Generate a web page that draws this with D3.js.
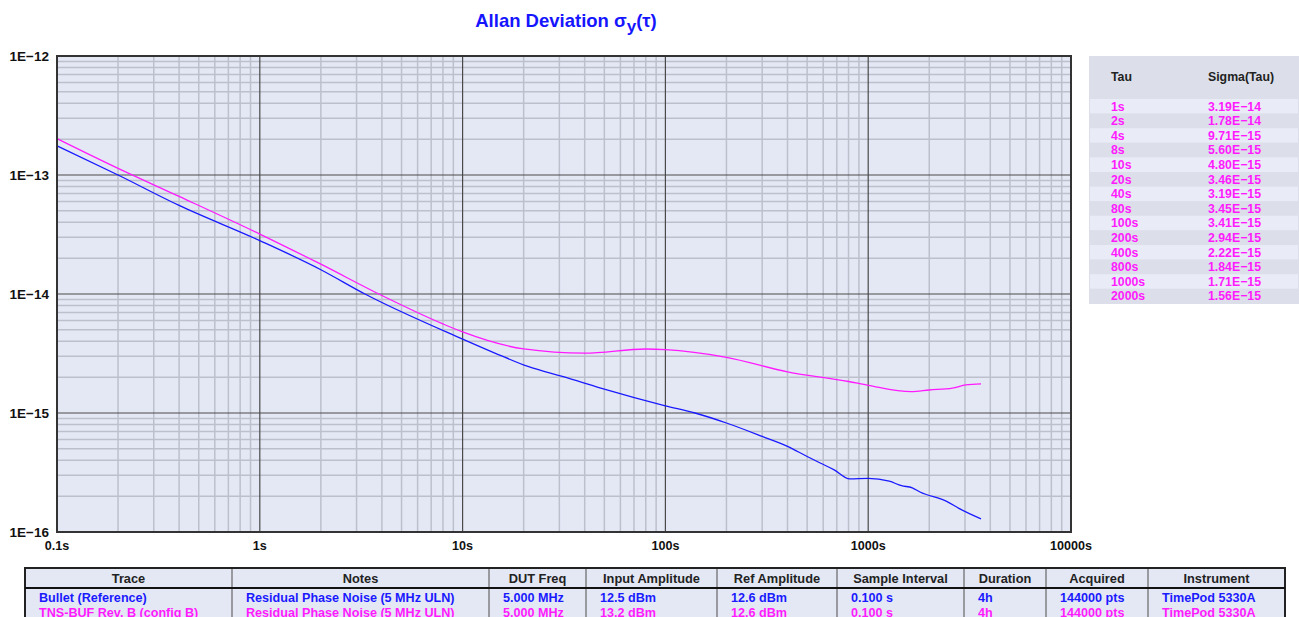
<!DOCTYPE html>
<html>
<head>
<meta charset="utf-8">
<script src="https://cdn.jsdelivr.net/npm/d3@7"></script>
<style>
  body { margin: 0; background: #fff; }
  svg { font-family: "Liberation Sans", Arial, sans-serif; font-weight: bold; }
</style>
</head>
<body>
<svg id="chart" width="1299" height="617"></svg>
<script>
  // traces (tau in s, sigma)
  const tauBullet = [0.1, 0.2, 0.4, 1, 2, 3.3, 10, 15, 21, 32, 48, 100, 140, 200, 300, 400, 500, 580, 680, 810, 1000, 1270, 1460, 1650, 1800, 2450, 2800, 3600];
  const sigmaBullet = [1.76e-13, 1.0e-13, 5.55e-14, 2.81e-14, 1.6e-14, 1.0e-14, 4.18e-15, 3.1e-15, 2.46e-15, 2.0e-15, 1.62e-15, 1.15e-15, 1.0e-15, 8.24e-16, 6.36e-16, 5.24e-16, 4.31e-16, 3.8e-16, 3.33e-16, 2.8e-16, 2.82e-16, 2.67e-16, 2.45e-16, 2.35e-16, 2.17e-16, 1.8e-16, 1.58e-16, 1.29e-16];

  const tauTns = [0.1, 0.2, 0.4, 1, 2, 4, 8, 10, 20, 40, 80, 100, 200, 400, 800, 1000, 1630, 2000, 2600, 3030, 3600];
  const sigmaTns = [2.02e-13, 1.136e-13, 6.61e-14, 3.19e-14, 1.78e-14, 9.71e-15, 5.6e-15, 4.8e-15, 3.46e-15, 3.19e-15, 3.45e-15, 3.41e-15, 2.94e-15, 2.22e-15, 1.84e-15, 1.71e-15, 1.51e-15, 1.56e-15, 1.62e-15, 1.72e-15, 1.76e-15];

  const xTicks = [0.1, 1, 10, 100, 1000, 10000];
  const xTickLabels = ["0.1s", "1s", "10s", "100s", "1000s", "10000s"];
  const yTicks = [1e-12, 1e-13, 1e-14, 1e-15, 1e-16];
  const yTickLabels = ["1E\u221212", "1E\u221213", "1E\u221214", "1E\u221215", "1E\u221216"];

  // side table
  const tableTau = ["1s", "2s", "4s", "8s", "10s", "20s", "40s", "80s", "100s", "200s", "400s", "800s", "1000s", "2000s"];
  const tableSigma = ["3.19E\u221214", "1.78E\u221214", "9.71E\u221215", "5.60E\u221215", "4.80E\u221215", "3.46E\u221215", "3.19E\u221215", "3.45E\u221215", "3.41E\u221215", "2.94E\u221215", "2.22E\u221215", "1.84E\u221215", "1.71E\u221215", "1.56E\u221215"];

  // bottom legend table
  const legendCols = ["Trace", "Notes", "DUT Freq", "Input Amplitude", "Ref Amplitude", "Sample Interval", "Duration", "Acquired", "Instrument"];
  const legendBullet = ["Bullet (Reference)", "Residual Phase Noise (5 MHz ULN)", "5.000 MHz", "12.5 dBm", "12.6 dBm", "0.100 s", "4h", "144000 pts", "TimePod 5330A"];
  const legendTns = ["TNS-BUF Rev. B (config B)", "Residual Phase Noise (5 MHz ULN)", "5.000 MHz", "13.2 dBm", "12.6 dBm", "0.100 s", "4h", "144000 pts", "TimePod 5330A"];
  const colEdges = [25, 232, 489, 586, 717, 837, 964, 1046, 1148, 1285];

  const blue = "#1a1aff";
  const magenta = "#ff1aff";

  const svg = d3.select("#chart");

  const x = d3.scaleLog().domain([0.1, 10000]).range([57, 1071]);
  const y = d3.scaleLog().domain([1e-16, 1e-12]).range([532, 56]);

  // title
  const title = svg.append("text")
    .attr("x", 566).attr("y", 27)
    .attr("text-anchor", "middle")
    .attr("fill", "#1515ff")
    .attr("font-size", 18.5);
  title.append("tspan").text("Allan Deviation \u03c3");
  title.append("tspan").attr("dy", 5).attr("font-size", 17).text("y");
  title.append("tspan").attr("dy", -5).text("(\u03c4)");

  // plot background
  svg.append("rect")
    .attr("x", x.range()[0]).attr("y", y.range()[1])
    .attr("width", x.range()[1] - x.range()[0])
    .attr("height", y.range()[0] - y.range()[1])
    .attr("fill", "#e4e8f5");

  const isMajor = (v) => Math.abs(Math.log10(v) - Math.round(Math.log10(v))) < 1e-9;

  const xGrid = x.ticks().filter((v) => v > 0.1 && v < 10000);
  const yGrid = y.ticks().filter((v) => v > 1e-16 && v < 1e-12);

  const grid = svg.append("g");
  grid.selectAll(".vminor")
    .data(xGrid.filter((v) => !isMajor(v)))
    .enter().append("line")
    .attr("x1", (d) => x(d)).attr("x2", (d) => x(d))
    .attr("y1", y.range()[1]).attr("y2", y.range()[0])
    .attr("stroke", "#bcc0cc").attr("stroke-width", 1.5);
  grid.selectAll(".hminor")
    .data(yGrid.filter((v) => !isMajor(v)))
    .enter().append("line")
    .attr("y1", (d) => y(d)).attr("y2", (d) => y(d))
    .attr("x1", x.range()[0]).attr("x2", x.range()[1])
    .attr("stroke", "#bcc0cc").attr("stroke-width", 1.5);
  grid.selectAll(".vmajor")
    .data(xGrid.filter(isMajor))
    .enter().append("line")
    .attr("x1", (d) => x(d)).attr("x2", (d) => x(d))
    .attr("y1", y.range()[1]).attr("y2", y.range()[0])
    .attr("stroke", "#4a4a4a").attr("stroke-width", 1.2);
  grid.selectAll(".hmajor")
    .data(yGrid.filter(isMajor))
    .enter().append("line")
    .attr("y1", (d) => y(d)).attr("y2", (d) => y(d))
    .attr("x1", x.range()[0]).attr("x2", x.range()[1])
    .attr("stroke", "#4a4a4a").attr("stroke-width", 1.2);

  // traces
  const line = d3.line()
    .x((d) => x(d[0]))
    .y((d) => y(d[1]))
    .curve(d3.curveMonotoneX);

  svg.append("path")
    .datum(d3.zip(tauTns, sigmaTns))
    .attr("d", line)
    .attr("fill", "none")
    .attr("stroke", magenta)
    .attr("stroke-width", 1.3);

  svg.append("path")
    .datum(d3.zip(tauBullet, sigmaBullet))
    .attr("d", line)
    .attr("fill", "none")
    .attr("stroke", blue)
    .attr("stroke-width", 1.3);

  // frame
  svg.append("rect")
    .attr("x", x.range()[0]).attr("y", y.range()[1])
    .attr("width", x.range()[1] - x.range()[0])
    .attr("height", y.range()[0] - y.range()[1])
    .attr("fill", "none")
    .attr("stroke", "#333").attr("stroke-width", 2);

  // axis labels
  svg.selectAll(".ylab")
    .data(yTicks)
    .enter().append("text")
    .attr("x", 49).attr("y", (d) => y(d) + 4.5)
    .attr("text-anchor", "end")
    .attr("font-size", 13.5)
    .attr("fill", "#111")
    .text((d, i) => yTickLabels[i]);

  svg.selectAll(".xlab")
    .data(xTicks)
    .enter().append("text")
    .attr("x", (d) => x(d)).attr("y", 550)
    .attr("text-anchor", "middle")
    .attr("font-size", 12.6)
    .attr("fill", "#111")
    .text((d, i) => xTickLabels[i]);

  // side table
  const side = svg.append("g");
  side.append("rect")
    .attr("x", 1089).attr("y", 56).attr("width", 210).attr("height", 248)
    .attr("fill", "#dcdfe9");
  side.append("text").attr("x", 1111).attr("y", 81).attr("font-size", 12.3).attr("fill", "#222").text("Tau");
  side.append("text").attr("x", 1208).attr("y", 81).attr("font-size", 12.3).attr("fill", "#222").text("Sigma(Tau)");

  const rowH = 14.6;
  const rows = side.selectAll(".row")
    .data(tableTau)
    .enter().append("g")
    .attr("transform", (d, i) => `translate(0,${99 + i * rowH})`);
  rows.append("rect")
    .attr("x", 1090).attr("width", 208).attr("height", rowH)
    .attr("fill", (d, i) => (i % 2 === 0 ? "#e9ecf7" : "#dcdfe9"));
  rows.append("text")
    .attr("x", 1111).attr("y", 11.5)
    .attr("font-size", 12.3).attr("fill", magenta)
    .text((d) => d);
  rows.append("text")
    .attr("x", 1208).attr("y", 11.5)
    .attr("font-size", 12.3).attr("fill", magenta)
    .text((d, i) => tableSigma[i]);

  // bottom legend table
  const leg = svg.append("g");
  leg.append("rect")
    .attr("x", colEdges[0]).attr("y", 568)
    .attr("width", colEdges[colEdges.length - 1] - colEdges[0]).attr("height", 60)
    .attr("fill", "#e4e8f5");
  leg.selectAll(".colline")
    .data(colEdges.slice(1, -1))
    .enter().append("line")
    .attr("x1", (d) => d).attr("x2", (d) => d)
    .attr("y1", 568).attr("y2", 628)
    .attr("stroke", "#666").attr("stroke-width", 1.2);
  leg.append("rect")
    .attr("x", colEdges[0]).attr("y", 568)
    .attr("width", colEdges[colEdges.length - 1] - colEdges[0]).attr("height", 60)
    .attr("fill", "none").attr("stroke", "#222").attr("stroke-width", 2);
  leg.append("line")
    .attr("x1", colEdges[0]).attr("x2", colEdges[colEdges.length - 1])
    .attr("y1", 588).attr("y2", 588)
    .attr("stroke", "#111").attr("stroke-width", 2);

  leg.selectAll(".head")
    .data(legendCols)
    .enter().append("text")
    .attr("x", (d, i) => (colEdges[i] + colEdges[i + 1]) / 2)
    .attr("y", 583)
    .attr("text-anchor", "middle")
    .attr("font-size", 12.8).attr("fill", "#222")
    .text((d) => d);

  [[legendBullet, blue, 602], [legendTns, magenta, 617]].forEach(([vals, col, yy]) => {
    leg.selectAll(null)
      .data(vals)
      .enter().append("text")
      .attr("x", (d, i) => colEdges[i] + 14)
      .attr("y", yy)
      .attr("font-size", 12.6).attr("fill", col)
      .text((d) => d);
  });
</script>
</body>
</html>
